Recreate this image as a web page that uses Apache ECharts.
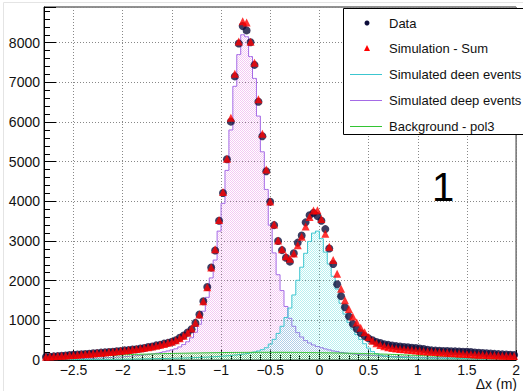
<!DOCTYPE html>
<html><head><meta charset="utf-8">
<script src="https://cdn.jsdelivr.net/npm/echarts@6/dist/echarts.min.js"></script>
<style>html,body{margin:0;padding:0;background:#fff}#c{width:523px;height:391px}</style>
</head><body><div id="c"></div>
<script>
// bin centres (bin width 0.04 m)
const binCenters = [
 -2.78,-2.74,-2.70,-2.66,-2.62,-2.58,-2.54,-2.50,-2.46,-2.42,
 -2.38,-2.34,-2.30,-2.26,-2.22,-2.18,-2.14,-2.10,-2.06,-2.02,
 -1.98,-1.94,-1.90,-1.86,-1.82,-1.78,-1.74,-1.70,-1.66,-1.62,
 -1.58,-1.54,-1.50,-1.46,-1.42,-1.38,-1.34,-1.30,-1.26,-1.22,
 -1.18,-1.14,-1.10,-1.06,-1.02,-0.98,-0.94,-0.90,-0.86,-0.82,
 -0.78,-0.74,-0.70,-0.66,-0.62,-0.58,-0.54,-0.50,-0.46,-0.42,
 -0.38,-0.34,-0.30,-0.26,-0.22,-0.18,-0.14,-0.10,-0.06,-0.02,
 0.02,0.06,0.10,0.14,0.18,0.22,0.26,0.30,0.34,0.38,
 0.42,0.46,0.50,0.54,0.58,0.62,0.66,0.70,0.74,0.78,
 0.82,0.86,0.90,0.94,0.98,1.02,1.06,1.10,1.14,1.18,
 1.22,1.26,1.30,1.34,1.38,1.42,1.46,1.50,1.54,1.58,
 1.62,1.66,1.70,1.74,1.78,1.82,1.86,1.90,1.94,1.98
];
const dataCounts = [
 78,84,92,98,108,112,126,131,138,147,
 152,158,168,173,186,193,203,208,222,228,
 243,248,263,272,292,301,328,342,368,381,
 412,432,462,498,562,618,694,776,935,1145,
 1480,1840,2330,2760,3510,4210,5060,6010,7150,7980,
 8420,8310,8010,7440,6510,5640,4760,3990,3400,3000,
 2770,2580,2480,2690,2960,3140,3470,3650,3710,3630,
 3510,3300,2810,2420,1910,1610,1330,1100,910,785,
 680,602,545,497,452,428,398,382,366,349,
 342,328,321,308,302,288,276,258,242,236,
 231,226,225,220,217,216,210,208,201,190,
 183,176,168,162,155,149,141,137,131,127
];
const simSum = [
 80,86,93,99,106,113,121,127,135,142,
 150,158,165,174,182,192,201,210,221,231,
 242,253,265,279,293,308,324,342,361,383,
 406,432,463,496,548,613,688,794,939,1145,
 1481,1837,2334,2791,3528,4237,5076,6106,7217,8028,
 8542,8508,8025,7496,6572,5706,4804,3994,3414,3014,
 2794,2613,2553,2682,2891,3110,3369,3608,3767,3775,
 3554,3182,2856,2519,2177,1795,1508,1283,1099,947,
 815,697,578,484,420,377,345,322,305,292,
 280,269,259,249,239,231,223,215,207,200,
 194,188,181,175,169,163,157,151,145,140,
 135,130,125,120,117,113,109,106,103,102
];
const deenCounts = [
 8,8,9,9,10,10,11,11,12,12,
 13,14,14,15,16,17,18,19,20,21,
 22,23,24,26,27,29,30,32,34,36,
 38,40,43,45,48,51,54,58,62,66,
 70,75,80,86,92,99,107,116,126,137,
 150,165,182,202,228,262,310,400,520,670,
 850,1070,1310,1640,2010,2340,2690,2990,3200,3250,
 3060,2720,2420,2110,1790,1430,1160,950,780,640,
 520,410,300,215,160,125,100,85,76,70,
 65,61,58,55,53,51,49,47,45,44,
 43,42,41,40,39,38,37,36,35,34,
 33,32,31,30,30,29,28,28,27,27
];
const deepCounts = [
 12,14,16,18,20,23,26,28,31,34,
 37,40,44,48,52,57,62,67,73,79,
 86,93,101,110,120,131,143,156,171,188,
 207,229,254,283,330,390,460,560,700,900,
 1230,1580,2070,2520,3250,3950,4780,5800,6900,7700,
 8200,8150,7650,7100,6150,5250,4300,3400,2700,2150,
 1750,1350,1050,850,690,580,490,430,380,340,
 310,280,255,230,210,190,175,162,150,140,
 130,124,118,112,106,101,97,93,89,86,
 83,80,77,74,70,68,66,64,62,60,
 59,58,56,55,54,53,52,51,50,49,
 48,47,46,45,44,43,42,41,40,40
];
const bgPol3 = [
 60,64,68,72,76,80,84,88,92,96,
 100,104,107,111,114,118,121,124,128,131,
 134,137,140,143,146,148,151,154,156,159,
 161,163,166,168,170,172,174,176,177,179,
 181,182,184,185,186,188,189,190,191,191,
 192,193,193,194,194,194,194,194,194,194,
 194,193,193,192,191,190,189,188,187,185,
 184,182,181,179,177,175,173,171,169,167,
 165,163,160,157,154,151,148,144,140,136,
 132,128,124,120,116,112,108,104,100,96,
 92,88,84,80,76,72,68,64,60,57,
 54,51,48,45,43,41,39,37,36,35
];
const xTickValues = [-2.5,-2,-1.5,-1,-0.5,0,0.5,1,1.5,2];
const seriesNames = ['Data','Simulation - Sum','Simulated deen events','Simulated deep events','Background - pol3'];

const FONT = 'Liberation Sans';
function pairs(v){ return binCenters.map((x,i)=>[x,v[i]]); }
function pattern(rgba){
  const c=document.createElement('canvas'); c.width=2; c.height=2;
  const g=c.getContext('2d'); g.fillStyle=rgba; g.fillRect(0,0,1,1); g.fillRect(1,1,1,1);
  return {image:c, repeat:'repeat'};
}
function fmt(v){ return (v<0?'\u2212':'')+Math.abs(v); }
function txt(x,y,s,size,align,color,lh){
  return {type:'text', x:x, y:y, z:101, style:{text:s, fill:color||'#111', fontSize:size, fontFamily:FONT,
    lineHeight:lh||size, textAlign:align||'left', textVerticalAlign:'middle'}};
}

const chart = echarts.init(document.getElementById('c'), null, {renderer:'svg'});
const axisLineStyle = {color:'#000', width:1};
chart.setOption({
  animation:false,
  backgroundColor:'#fff',
  grid:{left:44, top:7, width:480, height:353, show:true, borderColor:'#222', borderWidth:1, backgroundColor:'transparent'},
  xAxis:[{
    type:'value', min:-2.8, max:2.0, position:'bottom',
    axisLine:{show:true, onZero:false, lineStyle:axisLineStyle},
    axisTick:{show:true, inside:true, length:10, customValues:xTickValues, lineStyle:axisLineStyle},
    axisLabel:{customValues:xTickValues, formatter:fmt, fontSize:14, lineHeight:14, color:'#111', fontFamily:FONT, margin:3},
    splitLine:{show:true, lineStyle:{color:'#888', type:[1,2], width:1}}
  },{
    type:'value', min:-2.8, max:2.0, interval:0.1, position:'bottom',
    axisLine:{show:false, onZero:false},
    axisTick:{show:true, inside:true, length:5, lineStyle:axisLineStyle},
    axisLabel:{show:false}, splitLine:{show:false}
  }],
  yAxis:{
    type:'value', min:0, max:8900, interval:1000,
    axisLine:{show:true, onZero:false, lineStyle:axisLineStyle},
    axisTick:{show:true, inside:true, length:12, lineStyle:axisLineStyle},
    minorTick:{show:true, splitNumber:5, length:6, lineStyle:{color:'#000', width:1}},
    axisLabel:{fontSize:14, color:'#111', fontFamily:FONT, margin:4, showMaxLabel:false, formatter:v=>String(v)},
    splitLine:{show:true, lineStyle:{color:'#888', type:[1,2], width:1}}
  },
  series:[
    {name:seriesNames[3], type:'line', step:'middle', data:pairs(deepCounts), symbol:'none', z:2,
     lineStyle:{color:'#a56be6', width:1}, areaStyle:{color:pattern('rgba(215,80,215,0.3)'), opacity:1}},
    {name:seriesNames[2], type:'line', step:'middle', data:pairs(deenCounts), symbol:'none', z:3,
     lineStyle:{color:'#3cc6d0', width:1}, areaStyle:{color:pattern('rgba(40,210,210,0.33)'), opacity:1}},
    {name:seriesNames[4], type:'line', step:'middle', data:pairs(bgPol3), symbol:'none', z:4,
     lineStyle:{color:'#33c433', width:1}, areaStyle:{color:pattern('rgba(40,190,40,0.45)'), opacity:1}},
    {name:seriesNames[0], type:'scatter', data:pairs(dataCounts), symbol:'circle', symbolSize:8, z:5,
     itemStyle:{color:'#0c0c3a'}},
    {name:seriesNames[1], type:'scatter', data:pairs(simSum), symbol:'triangle', symbolSize:8, z:6,
     itemStyle:{color:'#ff0000'}}
  ],
  graphic:[
    {type:'rect', shape:{x:3.5,y:2.5,width:540,height:400}, style:{fill:'none', stroke:'#e4e4e4', lineWidth:1}, z:-10, silent:true},
    {type:'rect', shape:{x:343.5,y:8.5,width:200,height:126}, style:{fill:'#fff', stroke:'#000', lineWidth:1}, z:100},
    {type:'circle', shape:{cx:367,cy:23,r:2.5}, style:{fill:'#0c0c3a'}, z:101},
    {type:'polygon', shape:{points:[[367,45],[364,51],[370,51]]}, style:{fill:'#ff0000'}, z:101},
    {type:'line', shape:{x1:350,y1:74.5,x2:382,y2:74.5}, style:{stroke:'#3cc6d0', lineWidth:1}, z:101},
    {type:'line', shape:{x1:350,y1:100.5,x2:382,y2:100.5}, style:{stroke:'#a56be6', lineWidth:1}, z:101},
    {type:'line', shape:{x1:350,y1:126.5,x2:382,y2:126.5}, style:{stroke:'#33c433', lineWidth:1}, z:101},
    txt(389,23,seriesNames[0],13),
    txt(389,48,seriesNames[1],13),
    txt(389,74,seriesNames[2],13),
    txt(389,100,seriesNames[3],13),
    txt(389,126,seriesNames[4],13),
    txt(443,187,'1',40,'center','#000'),
    txt(517,384,'\u0394x (m)',14,'right','#111',12)
  ]
});
</script></body></html>
